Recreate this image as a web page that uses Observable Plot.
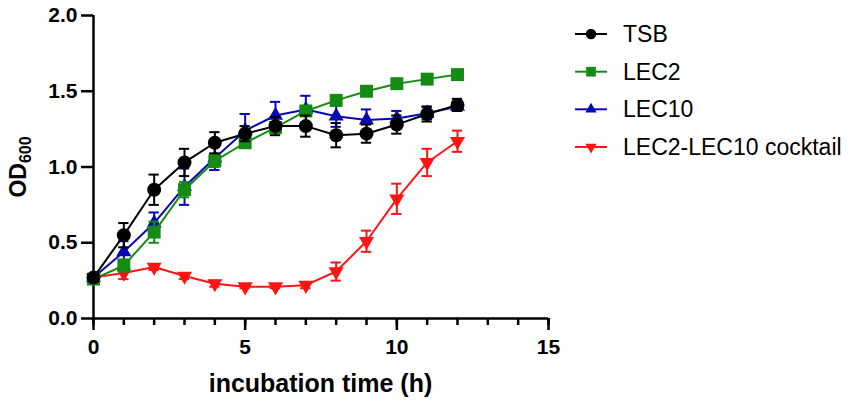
<!DOCTYPE html>
<html><head><meta charset="utf-8">
<script src="https://cdn.jsdelivr.net/npm/d3@7"></script>
<script src="https://cdn.jsdelivr.net/npm/@observablehq/plot@0.6"></script>
<style>body{margin:0;background:#fff} #chart{position:relative;width:850px;height:404px}</style>
</head><body><div id="chart"></div>
<script>
const time = [0,1,2,3,4,5,6,7,8,9,10,11,12];
const tsb = [0.27,0.55,0.85,1.03,1.16,1.22,1.27,1.27,1.21,1.22,1.28,1.35,1.41];
const tsbErr = [0.02,0.08,0.10,0.09,0.07,0.05,0.06,0.07,0.08,0.06,0.06,0.05,0.04];
const lec2 = [0.26,0.35,0.57,0.85,1.04,1.16,1.26,1.37,1.44,1.50,1.55,1.58,1.61];
const lec2Err = [0.02,0.04,0.07,0.05,0.04,0.02,0.03,0.02,0.01,0.01,0.01,0.01,0.01];
const lec10 = [0.27,0.44,0.63,0.87,1.06,1.24,1.34,1.38,1.335,1.31,1.32,1.355,1.40];
const lec10Err = [0.02,0.07,0.07,0.12,0.08,0.11,0.09,0.09,0.07,0.07,0.05,0.04,0.03];
const cocktail = [0.27,0.30,0.34,0.28,0.23,0.21,0.21,0.22,0.31,0.51,0.79,1.03,1.17];
const cocktailErr = [0.02,0.04,0.02,0.02,0.02,0.01,0.01,0.02,0.06,0.07,0.10,0.09,0.07];

const seriesNames = ["TSB","LEC2","LEC10","LEC2-LEC10 cocktail"];
const seriesColors = ["#000000","#148c14","#0808b4","#ff1414"];
const seriesSymbols = ["circle","square","triangle","triangle"];
const seriesRotate = [0,0,0,180];
const seriesR = [7,7.3,5.6,5.6];
const seriesValues = [tsb, lec2, lec10, cocktail];
const seriesErrors = [tsbErr, lec2Err, lec10Err, cocktailErr];

const xTicks = [0,5,10,15];
const minorTicks = [0,1,2,3,4,5,6,7,8,9,10,11,12,13,14,15];
const yTicks = [0,0.5,1,1.5,2];
const xLabel = "incubation time (h)";
const yLabelMain = "OD";
const yLabelSub = "600";

const capHalf = 0.17;
const rows = seriesNames.flatMap((s,i)=> time.map((t,j)=>({series:s, i, t, y: seriesValues[i][j], e: seriesErrors[i][j]})));
const drawOrder = [3,2,1,0];
const marks = [];
for (const i of drawOrder) {
  const d = rows.filter(r=>r.i===i);
  const c = seriesColors[i];
  marks.push(
    Plot.ruleX(d, {x:"t", y1: r=>r.y-r.e, y2: r=>r.y+r.e, stroke:c, strokeWidth:2}),
    Plot.ruleY(d, {y: r=>r.y+r.e, x1: r=>r.t-capHalf, x2: r=>r.t+capHalf, stroke:c, strokeWidth:2}),
    Plot.ruleY(d, {y: r=>r.y-r.e, x1: r=>r.t-capHalf, x2: r=>r.t+capHalf, stroke:c, strokeWidth:2}),
    Plot.line(d, {x:"t", y:"y", stroke:c, strokeWidth:2}),
    Plot.dot(d, {x:"t", y:"y", fill:c, stroke:"none", symbol: seriesSymbols[i], r: seriesR[i], rotate: seriesRotate[i]})
  );
}

const svg = Plot.plot({
  width: 850, height: 404,
  marginLeft: 93, marginRight: 302, marginTop: 15, marginBottom: 86,
  style: {fontFamily: "'Liberation Sans', Arial, sans-serif", fontSize: "21px", fontWeight: "bold", color: "#000", background: "#fff"},
  x: {domain: [0,15]},
  y: {domain: [0,2]},
  marks: [
    Plot.axisX({ticks: minorTicks, tickSize: 7, strokeWidth: 2.5, tickFormat: () => "", label: null}),
    Plot.axisX({ticks: xTicks, tickSize: 12, tickPadding: 9, strokeWidth: 2.5, fontSize: 21, fontWeight: "bold", label: null}),
    Plot.axisY({ticks: yTicks, tickSize: 12, tickPadding: 4, strokeWidth: 2.5, fontSize: 21, fontWeight: "bold", tickFormat: d3.format(".1f"), label: null}),
    Plot.ruleY([0], {strokeWidth: 2.5}),
    Plot.ruleX([0], {strokeWidth: 2.5}),
    ...marks
  ]
});
document.getElementById("chart").appendChild(svg);

const s = d3.select(svg);
s.append("text").attr("x", 320.5).attr("y", 392).attr("text-anchor","middle")
  .attr("font-size", 25).attr("font-weight","bold").attr("fill","#000").text(xLabel);
const yl = s.append("text").attr("transform","translate(26,167) rotate(-90)").attr("text-anchor","middle")
  .attr("font-size", 23).attr("font-weight","bold").attr("fill","#000");
yl.append("tspan").text(yLabelMain);
yl.append("tspan").attr("font-size", 16).attr("dy", 5).text(yLabelSub);

const lg = s.append("g");
const rowY = [34, 71.7, 109.3, 147];
seriesNames.forEach((name, i) => {
  const g = lg.append("g").attr("transform", `translate(0,${rowY[i]})`);
  g.append("line").attr("x1",575).attr("x2",607).attr("y1",0).attr("y2",0).attr("stroke",seriesColors[i]).attr("stroke-width",2);
  const sym = {circle: d3.symbolCircle, square: d3.symbolSquare, triangle: d3.symbolTriangle}[seriesSymbols[i]];
  g.append("path").attr("d", d3.symbol(sym, Math.PI*Math.pow(seriesR[i]*0.75,2))())
    .attr("transform", `translate(591,0) rotate(${seriesRotate[i]})`).attr("fill", seriesColors[i]);
  g.append("text").attr("x", 623).attr("y", 0).attr("dy","0.35em").attr("text-anchor","start")
    .attr("font-size",23).attr("font-weight","normal").attr("fill","#000").text(name);
});
</script></body></html>
